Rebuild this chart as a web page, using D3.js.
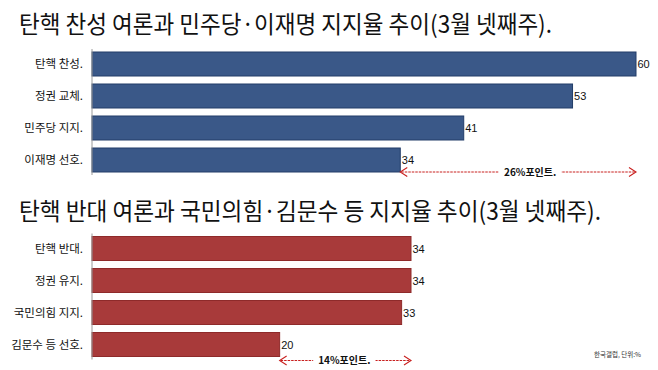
<!DOCTYPE html>
<html>
<head>
<meta charset="utf-8">
<script src="https://cdn.jsdelivr.net/npm/d3@7"></script>
<style>
  html, body { margin: 0; padding: 0; background: #fff; }
  svg { display: block; }
</style>
</head>
<body>
<svg id="chart" width="658" height="370"></svg>
<script>
// Impeachment support side
const topTitle = "탄핵 찬성 여론과 민주당·이재명 지지율 추이(3월 넷째주).";
const topCategories = ["탄핵 찬성.", "정권 교체.", "민주당 지지.", "이재명 선호."];
const topValues = [60, 53, 41, 34];

// Impeachment opposition side
const bottomTitle = "탄핵 반대 여론과 국민의힘·김문수 등 지지율 추이(3월 넷째주).";
const bottomCategories = ["탄핵 반대.", "정권 유지.", "국민의힘 지지.", "김문수 등 선호."];
const bottomValues = [34, 34, 33, 20];

const sourceNote = "한국갤럽, 단위:%";

const KR = "'Noto Sans CJK KR', 'Noto Sans', sans-serif";
const NUM = "'Liberation Sans', Arial, sans-serif";

const svg = d3.select("#chart");

function panel(cfg) {
  const g = svg.append("g");
  const x = d3.scaleLinear().domain([0, cfg.max]).range([92, cfg.maxX]);
  const y = d3.scaleBand().domain(cfg.categories)
    .range(cfg.yRange).paddingInner(0.25).paddingOuter(0.125);

  // title, stretched to its set width
  g.append("text")
    .attr("x", 19).attr("y", cfg.titleY)
    .attr("font-family", KR).attr("font-size", 24)
    .attr("fill", "#111")
    .attr("textLength", cfg.titleWidth).attr("lengthAdjust", "spacingAndGlyphs")
    .text(cfg.title);

  const data = cfg.categories.map((c, i) => ({ c, v: cfg.values[i] }));

  g.selectAll("rect.bar").data(data).join("rect")
    .attr("class", "bar")
    .attr("x", x(0))
    .attr("y", d => y(d.c))
    .attr("width", d => x(d.v) - x(0))
    .attr("height", y.bandwidth())
    .attr("fill", cfg.fill)
    .attr("stroke", cfg.stroke)
    .attr("stroke-width", 1);

  // baseline axis
  g.append("line")
    .attr("x1", x(0)).attr("x2", x(0))
    .attr("y1", cfg.yRange[0] + 1).attr("y2", cfg.yRange[1] - 1)
    .attr("stroke", "#9a9a9a").attr("stroke-width", 1);

  // category labels
  g.selectAll("text.cat").data(data).join("text")
    .attr("class", "cat")
    .attr("x", 83)
    .attr("y", d => y(d.c) + y.bandwidth() / 2)
    .attr("dy", "0.35em")
    .attr("text-anchor", "end")
    .attr("font-family", KR).attr("font-size", 11.5)
    .attr("fill", "#111")
    .text(d => d.c);

  // value labels
  g.selectAll("text.val").data(data).join("text")
    .attr("class", "val")
    .attr("x", d => x(d.v) + 1.5)
    .attr("y", d => y(d.c) + y.bandwidth() / 2 + 0.5)
    .attr("dy", "0.35em")
    .attr("font-family", NUM).attr("font-size", 11)
    .attr("fill", "#111")
    .text(d => d.v);

  // gap arrow between the largest and the smallest bar
  const hi = d3.max(cfg.values), lo = d3.min(cfg.values);
  const x1 = x(lo), x2 = x(hi), ay = cfg.arrowY;
  const red = "#c8201f";
  const label = `${hi - lo}%포인트.`;

  g.append("line")
    .attr("x1", x1 + 1).attr("x2", x2 - 1)
    .attr("y1", ay).attr("y2", ay)
    .attr("stroke", red).attr("stroke-width", 1)
    .attr("stroke-dasharray", "2.5,1");

  [[x1, 1], [x2, -1]].forEach(([tx, dir]) => {
    g.append("path")
      .attr("d", `M${tx + dir * 7},${ay - 4.5} L${tx},${ay} L${tx + dir * 7},${ay + 4.5}`)
      .attr("fill", "none").attr("stroke", red).attr("stroke-width", 1.1);
  });

  const cx = (x1 + x2) / 2 + cfg.labelShift;
  const t = g.append("text")
    .attr("x", cx).attr("y", ay).attr("dy", "0.35em")
    .attr("text-anchor", "middle")
    .attr("font-family", KR).attr("font-size", 10).attr("font-weight", "bold")
    .attr("fill", "#111")
    .text(label);
  const bb = t.node().getBBox();
  g.insert("rect", "text:last-of-type")
    .attr("x", bb.x - 5).attr("y", ay - 3)
    .attr("width", bb.width + 10).attr("height", 6)
    .attr("fill", "#fff");
}

panel({
  title: topTitle, titleY: 33, titleWidth: 533,
  categories: topCategories, values: topValues,
  max: 60, maxX: 636, yRange: [48, 176],
  fill: "#3a5888", stroke: "#223d68",
  arrowY: 172, labelShift: 12
});

panel({
  title: bottomTitle, titleY: 220, titleWidth: 582,
  categories: bottomCategories, values: bottomValues,
  max: 34, maxX: 411, yRange: [232.5, 360.5],
  fill: "#a83a3a", stroke: "#8e2a2a",
  arrowY: 360.5, labelShift: -1
});

svg.append("text")
  .attr("x", 641).attr("y", 357)
  .attr("text-anchor", "end")
  .attr("font-family", KR).attr("font-size", 6.5)
  .attr("fill", "#333")
  .text(sourceNote);
</script>
</body>
</html>
